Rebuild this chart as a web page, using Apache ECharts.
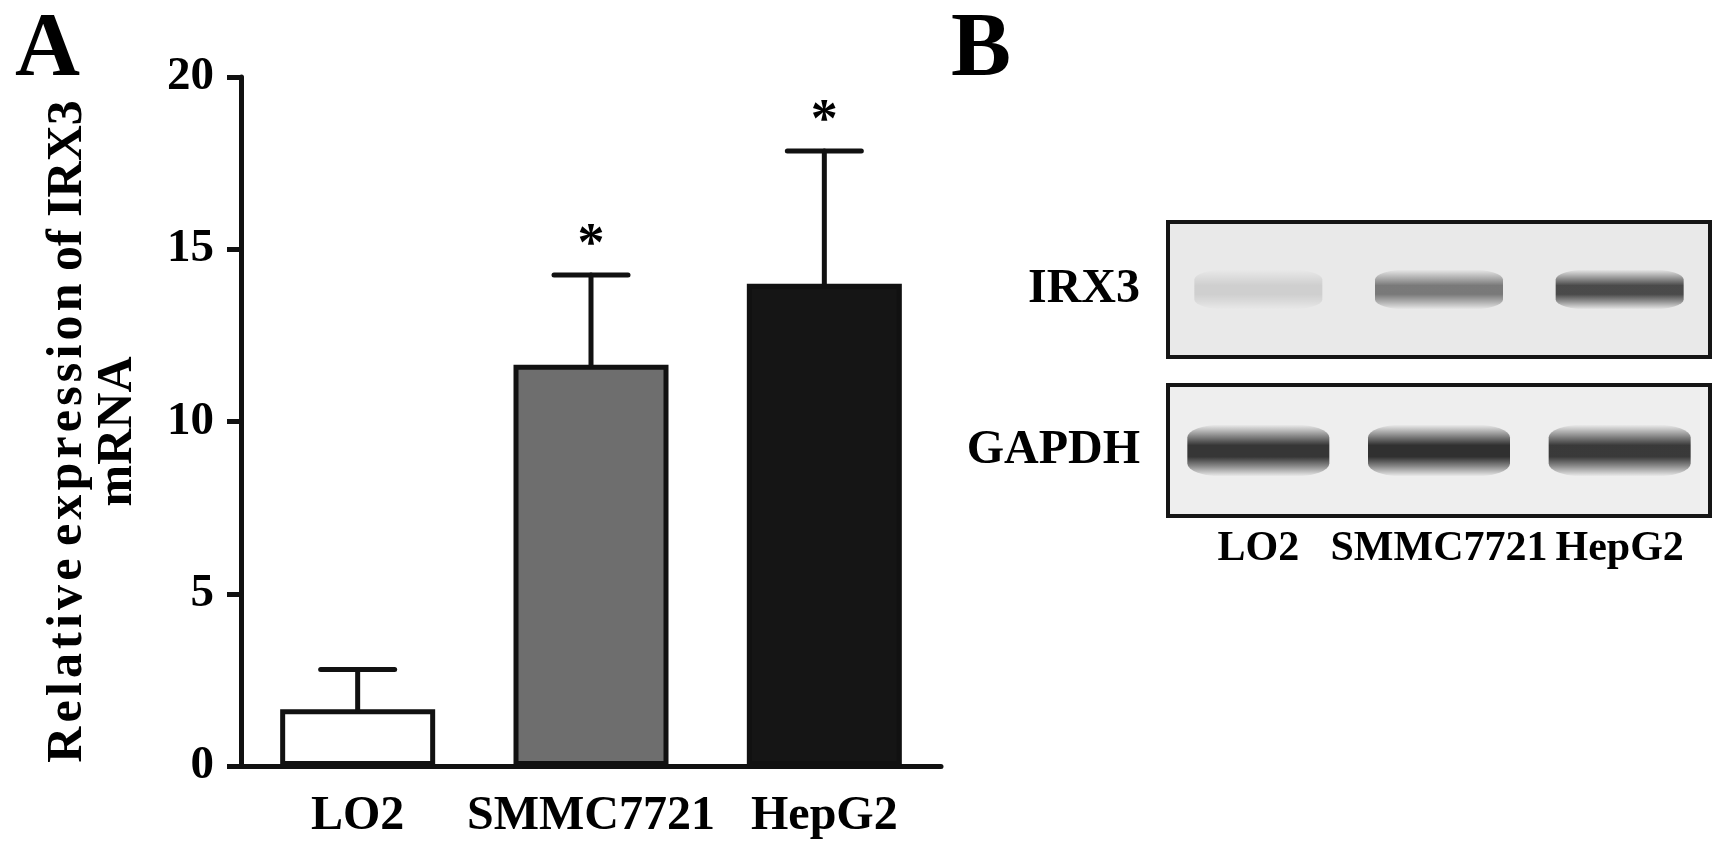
<!DOCTYPE html>
<html>
<head>
<meta charset="utf-8">
<script src="https://cdn.jsdelivr.net/npm/echarts@6/dist/echarts.min.js"></script>
<style>
  html, body { margin: 0; padding: 0; background: #fff; }
  #chart { width: 1736px; height: 856px; }
</style>
</head>
<body>
<div id="chart"></div>
<script>
// panel A: relative IRX3 mRNA
const cellLines = ['LO2', 'SMMC7721', 'HepG2'];
const meanExpr = [1.65, 11.65, 14.0];
const sdExpr = [1.15, 2.6, 3.85];
const significant = [false, true, true];
const barColors = ['#ffffff', '#6e6e6e', '#151515'];

// panel B: western blot band darkness (0..1)
const proteins = ['IRX3', 'GAPDH'];
const irx3Band = [0.14, 0.6, 0.85];
const gapdhBand = [0.97, 1.0, 0.95];

const serif = '"Liberation Serif", "DejaVu Serif", serif';
const hair = '\u200A';
const spaced = s => s.split('').join(hair);
const yName = spaced('Relative') + ' ' + spaced('expression') + ' of IRX3\nmRNA';

const chart = echarts.init(document.getElementById('chart'));

// soft band: transparent edges, dark core
const shade = a => 'rgba(0,0,0,' + a.toFixed(3) + ')';
const bandData = vals => vals.map((v, i) => ({
  value: [i, 0],
  itemStyle: {
    color: new echarts.graphic.LinearGradient(0, 0, 0, 1, [
      {offset: 0, color: shade(0)},
      {offset: 0.22, color: shade(v * 0.55)},
      {offset: 0.4, color: shade(v)},
      {offset: 0.62, color: shade(v)},
      {offset: 0.8, color: shade(v * 0.55)},
      {offset: 1, color: shade(0)}
    ])
  }
}));

const blotAxisLabel = {
  color: '#000', fontFamily: serif, fontWeight: 'bold', fontSize: 48, margin: 28
};

const option = {
  backgroundColor: '#fff',
  animation: false,
  title: [
    {text: 'A', left: 10, top: 2, textStyle: {fontFamily: serif, fontWeight: 'bold', fontSize: 90, color: '#000'}},
    {text: 'B', left: 946, top: 2, textStyle: {fontFamily: serif, fontWeight: 'bold', fontSize: 90, color: '#000'}}
  ],
  grid: [
    {left: 241, top: 77, width: 700, height: 689},
    {left: 1168, top: 222, width: 542, height: 135, show: true, backgroundColor: '#e9e9e9', borderColor: '#151515', borderWidth: 4},
    {left: 1168, top: 385, width: 542, height: 131, show: true, backgroundColor: '#eeeeee', borderColor: '#151515', borderWidth: 4}
  ],
  xAxis: [
    {
      gridIndex: 0,
      type: 'category',
      data: cellLines,
      axisLine: {lineStyle: {color: '#111', width: 5}},
      axisTick: {alignWithLabel: true, length: 16, lineStyle: {color: '#111', width: 5}},
      axisLabel: {interval: 0, color: '#000', fontFamily: serif, fontWeight: 'bold', fontSize: 48, margin: 27}
    },
    {
      gridIndex: 1, type: 'category', data: cellLines,
      axisLine: {show: false}, axisTick: {show: false}, axisLabel: {show: false}
    },
    {
      gridIndex: 2, type: 'category', data: cellLines,
      axisLine: {show: false}, axisTick: {show: false},
      axisLabel: {interval: 0, color: '#000', fontFamily: serif, fontWeight: 'bold', fontSize: 42, margin: 12}
    }
  ],
  yAxis: [
    {
      gridIndex: 0,
      type: 'value',
      min: 0, max: 20, interval: 5,
      name: yName,
      nameLocation: 'middle',
      nameRotate: 90,
      nameGap: 98,
      nameTextStyle: {color: '#000', fontFamily: serif, fontWeight: 'bold', fontSize: 50, lineHeight: 50, padding: [0, 20, 0, 0]},
      axisLine: {show: true, lineStyle: {color: '#111', width: 5}},
      axisTick: {show: true, length: 14, lineStyle: {color: '#111', width: 5}},
      axisLabel: {color: '#000', fontFamily: serif, fontWeight: 'bold', fontSize: 47, margin: 27},
      splitLine: {show: false}
    },
    {
      gridIndex: 1, type: 'category', data: [proteins[0]],
      axisLine: {show: false}, axisTick: {show: false}, axisLabel: blotAxisLabel
    },
    {
      gridIndex: 2, type: 'category', data: [proteins[1]],
      axisLine: {show: false}, axisTick: {show: false}, axisLabel: blotAxisLabel
    }
  ],
  series: [
    {
      type: 'bar',
      xAxisIndex: 0, yAxisIndex: 0,
      barWidth: 155,
      data: meanExpr.map((v, i) => ({
        value: v,
        itemStyle: {color: barColors[i], borderColor: '#111', borderWidth: 5}
      }))
    },
    {
      type: 'custom',
      xAxisIndex: 0, yAxisIndex: 0,
      z: 3,
      data: meanExpr.map((v, i) => [i, v, sdExpr[i], significant[i] ? 1 : 0]),
      renderItem: (params, api) => {
        const base = api.coord([api.value(0), api.value(1)]);
        const top = api.coord([api.value(0), api.value(1) + api.value(2)]);
        const stroke = {stroke: '#111', lineWidth: 5, lineCap: 'round'};
        const children = [
          {type: 'line', shape: {x1: base[0], y1: base[1], x2: top[0], y2: top[1]}, style: stroke},
          {type: 'line', shape: {x1: top[0] - 37, y1: top[1], x2: top[0] + 37, y2: top[1]}, style: stroke}
        ];
        if (api.value(3)) {
          children.push({
            type: 'text',
            style: {
              text: '*', x: top[0], y: top[1] - 2,
              align: 'center', verticalAlign: 'bottom',
              font: 'bold 54px ' + serif, fill: '#000'
            }
          });
        }
        return {type: 'group', children: children};
      }
    },
    {
      type: 'scatter',
      xAxisIndex: 1, yAxisIndex: 1,
      symbol: 'roundRect',
      symbolSize: [128, 40],
      data: bandData(irx3Band)
    },
    {
      type: 'scatter',
      xAxisIndex: 2, yAxisIndex: 2,
      symbol: 'roundRect',
      symbolSize: [142, 52],
      data: bandData(gapdhBand)
    }
  ]
};

chart.setOption(option);
</script>
</body>
</html>
